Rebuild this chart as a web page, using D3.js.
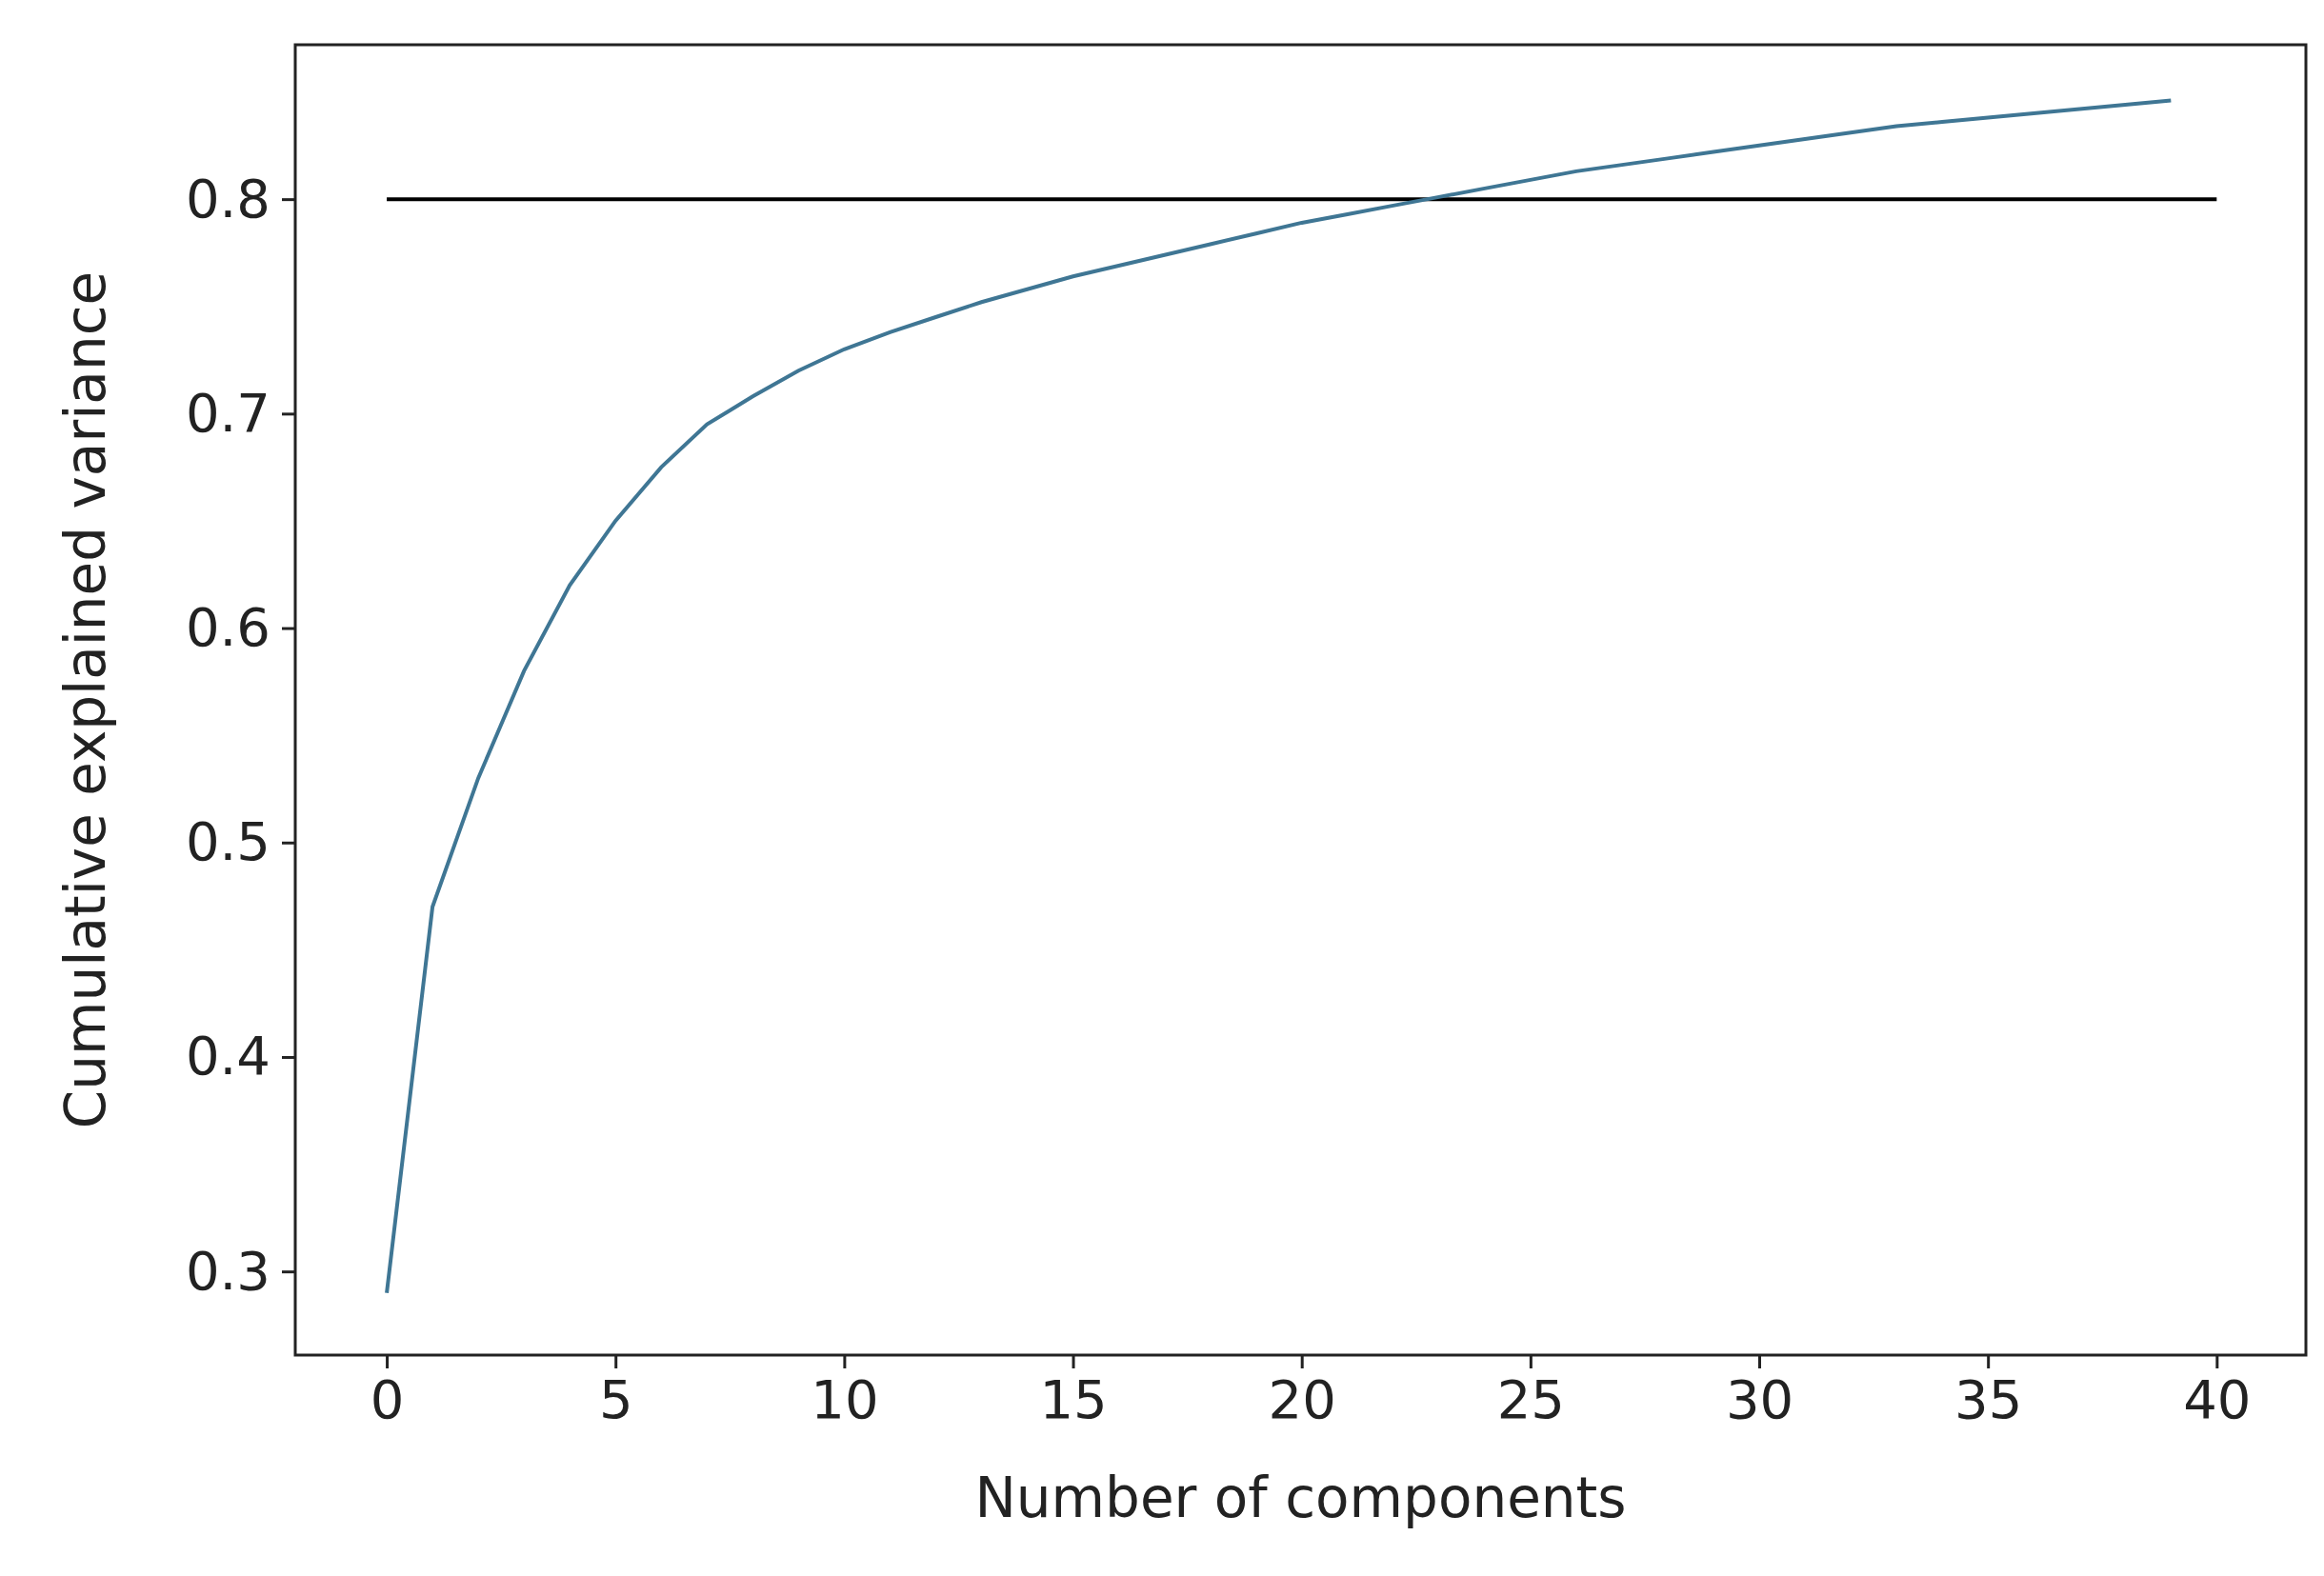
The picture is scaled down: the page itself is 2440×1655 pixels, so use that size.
<!DOCTYPE html>
<html>
<head>
<meta charset="utf-8">
<script src="https://cdn.jsdelivr.net/npm/d3@7"></script>
<style>body{margin:0;background:#fff}</style>
</head>
<body>
<div id="chart"></div>
<script>
const components = d3.range(40);
const cumVariance = [0.29, 0.47, 0.53, 0.58, 0.62, 0.65, 0.675, 0.695, 0.708, 0.72,
  0.73, 0.738, 0.745, 0.752, 0.758, 0.764, 0.769, 0.774, 0.779, 0.784,
  0.789, 0.793, 0.797, 0.801, 0.805, 0.809, 0.813, 0.816, 0.819, 0.822,
  0.825, 0.828, 0.831, 0.834, 0.836, 0.838, 0.840, 0.842, 0.844, 0.846];
const threshold = 0.8;
const xTicks = [0, 5, 10, 15, 20, 25, 30, 35, 40];
const yTicks = [0.3, 0.4, 0.5, 0.6, 0.7, 0.8];

const W = 2440, H = 1655;
const m = {left: 310, right: 19, top: 47, bottom: 232};
const svg = d3.select("#chart").append("svg").attr("width", W).attr("height", H)
  .style("font-family", "DejaVu Sans");

const x = d3.scaleLinear().domain([-2, 41.95]).range([m.left, W - m.right]);
const y = d3.scaleLinear().domain([0.261, 0.872]).range([H - m.bottom, m.top]);

const xAxis = svg.append("g").attr("transform", `translate(0,${H - m.bottom})`)
  .call(d3.axisBottom(x).tickValues(xTicks).tickSize(14).tickPadding(12).tickFormat(d3.format("d")));
const yAxis = svg.append("g").attr("transform", `translate(${m.left},0)`)
  .call(d3.axisLeft(y).tickValues(yTicks).tickSize(14).tickPadding(12).tickFormat(d3.format(".1f")));
[xAxis, yAxis].forEach(a => {
  a.select(".domain").remove();
  a.selectAll("line").attr("stroke", "#222").attr("stroke-width", 3);
  a.selectAll("text").attr("font-size", 56).attr("fill", "#222").attr("font-family", "DejaVu Sans");
});

svg.append("rect").attr("x", m.left).attr("y", m.top)
  .attr("width", W - m.left - m.right).attr("height", H - m.top - m.bottom)
  .attr("fill", "none").attr("stroke", "#222").attr("stroke-width", 3);

svg.append("line").attr("x1", x(0)).attr("x2", x(40)).attr("y1", y(threshold)).attr("y2", y(threshold))
  .attr("stroke", "#000").attr("stroke-width", 4);

svg.append("path").datum(components)
  .attr("d", d3.line().x(d => x(d)).y(d => y(cumVariance[d])))
  .attr("fill", "none").attr("stroke", "#3f7694").attr("stroke-width", 4);

svg.append("text").attr("x", (m.left + W - m.right) / 2).attr("y", H - 62)
  .attr("text-anchor", "middle").attr("font-size", 58).attr("fill", "#222").text("Number of components");
svg.append("text").attr("transform", `translate(110,${(m.top + H - m.bottom) / 2}) rotate(-90)`)
  .attr("text-anchor", "middle").attr("font-size", 58).attr("fill", "#222").text("Cumulative explained variance");
</script>
</body>
</html>
